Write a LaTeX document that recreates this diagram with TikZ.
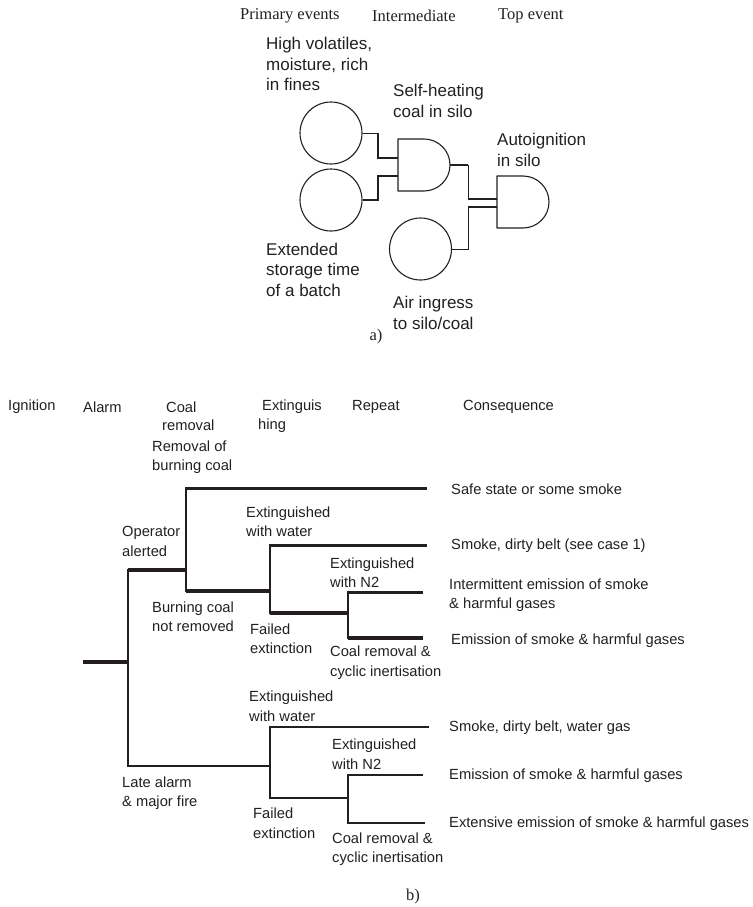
\documentclass[tikz,border=0pt]{standalone}
\usepackage{fontspec}
\setmainfont{Liberation Serif}
\newfontfamily\sa{Liberation Sans}
\definecolor{ink}{HTML}{231F20}
\begin{document}
\begin{tikzpicture}[x=1pt,y=-1pt,
  lbla/.style={font=\sa\fontsize{17}{20.5}\selectfont, align=left, anchor=west, inner sep=0pt, text=ink},
  lblb/.style={font=\sa\fontsize{14.7}{19.5}\selectfont, align=left, anchor=west, inner sep=0pt, text=ink},
  hdrb/.style={font=\sa\fontsize{14.7}{18.5}\selectfont, align=left, anchor=west, inner sep=0pt, text=ink},
  hdr/.style={font=\fontsize{16.5}{20}\selectfont, anchor=west, inner sep=0pt, text=ink},
  capt/.style={font=\fontsize{16.5}{20}\selectfont, anchor=center, inner sep=0pt, text=ink},
  evt/.style={circle, draw=ink, line width=1.1pt, minimum size=62pt, inner sep=0pt},
  gateline/.style={draw=ink, line width=1.1pt, line join=round},
  wthin/.style={draw=ink, line width=0.9pt},
  wthick/.style={draw=ink, line width=1.9pt},
  bfour/.style={draw=ink, line width=4.2pt},
  bthree/.style={draw=ink, line width=3pt},
  btwo/.style={draw=ink, line width=2.5pt},
  vl/.style={draw=ink, line width=2pt, line cap=rect}]
\useasboundingbox (0,0) rectangle (752,907);

% ---------------- part a ----------------
\node[hdr] (h1) at (240,16) {Primary events};
\node[hdr] (h2) at (372,16) {Intermediate};
\node[hdr] (h3) at (498,16) {Top event};

\node[evt] (c1) at (331,133) {};
\node[evt] (c2) at (331,200) {};
\node[evt] (c3) at (420.5,249) {};

% gates
\draw[gateline] (398,139) -- (424,139) arc[start angle=90, end angle=-90, radius=26pt] -- (398,191) -- cycle;
\draw[gateline] (497,176) -- (523,176) arc[start angle=90, end angle=-90, radius=26pt] -- (497,228) -- cycle;
\coordinate (g1i1) at (398,158);
\coordinate (g1i2) at (398,176);
\coordinate (g1o) at (450,165);
\coordinate (g2i1) at (497,199);
\coordinate (g2i2) at (497,207);
\coordinate (k1) at (378,158);
\coordinate (k2) at (378,176);
\coordinate (k3) at (468,199);
\coordinate (k4) at (468,207);

\draw[wthin] (c1.east) -- (c1.east -| k1);
\draw[wthick] (c1.east -| k1) -- (k1) -- (g1i1);
\draw[wthick] (c2.east) -- (c2.east -| k2) -- (k2) -- (g1i2);
\draw[wthick] (g1o) -- (g1o -| k3);
\draw[wthin] (g1o -| k3) -- (k3);
\draw[wthick] (k3) -- (g2i1);
\draw[wthin] (c3.east) -- (c3.east -| k4) -- (k4);
\draw[wthick] (k4) -- (g2i2);

\node[lbla] (t1) at (266,64) {High volatiles,\\moisture, rich\\in fines};
\node[lbla] (t2) at (393,101) {Self-heating\\coal in silo};
\node[lbla] (t3) at (497,150) {Autoignition\\in silo};
\node[lbla] (t4) at (266,269.5) {Extended\\storage time\\of a batch};
\node[lbla] (t5) at (393,313) {Air ingress\\to silo/coal};

\node[capt] (capa) at (376,337) {a)};

% ---------------- part b ----------------
\node[hdrb] (hb1) at (8,407) {Ignition};
\node[hdrb] (hb2) at (83,407) {Alarm};
\node[hdrb] (hb3) at (162,416) {\hspace*{4pt}Coal\\removal};
\node[hdrb] (hb4) at (258,416) {\hspace*{4pt}Extinguis\\hing};
\node[hdrb] (hb5) at (352,407) {Repeat};
\node[hdrb] (hb6) at (463,407) {Consequence};

\coordinate (r0) at (83,662);
\coordinate (n1u) at (128,570);
\coordinate (n1d) at (128,766);
\coordinate (n2u) at (186,488);
\coordinate (n2d) at (186,591);
\coordinate (n3u) at (270,545);
\coordinate (n3d) at (270,613);
\coordinate (n4u) at (348,592);
\coordinate (n4d) at (348,638);
\coordinate (n5u) at (270,727);
\coordinate (n5d) at (270,798);
\coordinate (n6u) at (348,775);
\coordinate (n6d) at (348,823);
\coordinate (e1) at (427,488);
\coordinate (e2) at (427,545);
\coordinate (e3) at (423,592);
\coordinate (e4) at (423,638);
\coordinate (e5) at (429,727);
\coordinate (e6) at (423,775);
\coordinate (e7) at (425,823);

\draw[bfour] (r0) -- (r0 -| n1u);
\draw[vl] (n1u) -- (n1d);
\draw[bfour] (n1u) -- (n1u -| n2u);
\draw[vl] (n2u) -- (n2d);
\draw[bthree] (n2u) -- (e1);
\draw[bfour] (n2d) -- (n2d -| n3u);
\draw[vl] (n3u) -- (n3d);
\draw[bthree] (n3u) -- (e2);
\draw[bfour] (n3d) -- (n3d -| n4u);
\draw[vl] (n4u) -- (n4d);
\draw[bthree] (n4u) -- (e3);
\draw[bfour] (n4d) -- (e4);
\draw[btwo] (n1d) -- (n1d -| n5u);
\draw[vl] (n5u) -- (n5d);
\draw[btwo] (n5u) -- (e5);
\draw[btwo] (n5d) -- (n5d -| n6u);
\draw[vl] (n6u) -- (n6d);
\draw[btwo] (n6u) -- (e6);
\draw[btwo] (n6d) -- (e7);

\node[lblb] (l1) at (152,457) {Removal of\\burning coal};
\node[lblb] (l2) at (122,541.5) {Operator\\alerted};
\node[lblb] (l3) at (246,521.5) {Extinguished\\with water};
\node[lblb] (l4) at (330,572.5) {Extinguished\\with N2};
\node[lblb] (l5) at (152,616.5) {Burning coal\\not removed};
\node[lblb] (l6) at (250,638.5) {Failed\\extinction};
\node[lblb] (l7) at (330,662.5) {Coal removal \&\\cyclic inertisation};
\node[lblb] (l8) at (249,706) {Extinguished\\with water};
\node[lblb] (l9) at (332,754) {Extinguished\\with N2};
\node[lblb] (l10) at (122,793) {Late alarm\\\& major fire};
\node[lblb] (l11) at (253,823) {Failed\\extinction};
\node[lblb] (l12) at (332,849) {Coal removal \&\\cyclic inertisation};

\node[lblb] (o1) at (451,489) {Safe state or some smoke};
\node[lblb] (o2) at (451,546) {Smoke, dirty belt (see case 1)};
\node[lblb] (o3) at (449,595) {Intermittent emission of smoke\\\& harmful gases};
\node[lblb] (o4) at (451,641) {Emission of smoke \& harmful gases};
\node[lblb] (o5) at (449,728) {Smoke, dirty belt, water gas};
\node[lblb] (o6) at (449,776) {Emission of smoke \& harmful gases};
\node[lblb] (o7) at (449,824) {Extensive emission of smoke \& harmful gases};

\node[capt] (capb) at (413,897) {b)};
\end{tikzpicture}
\end{document}
